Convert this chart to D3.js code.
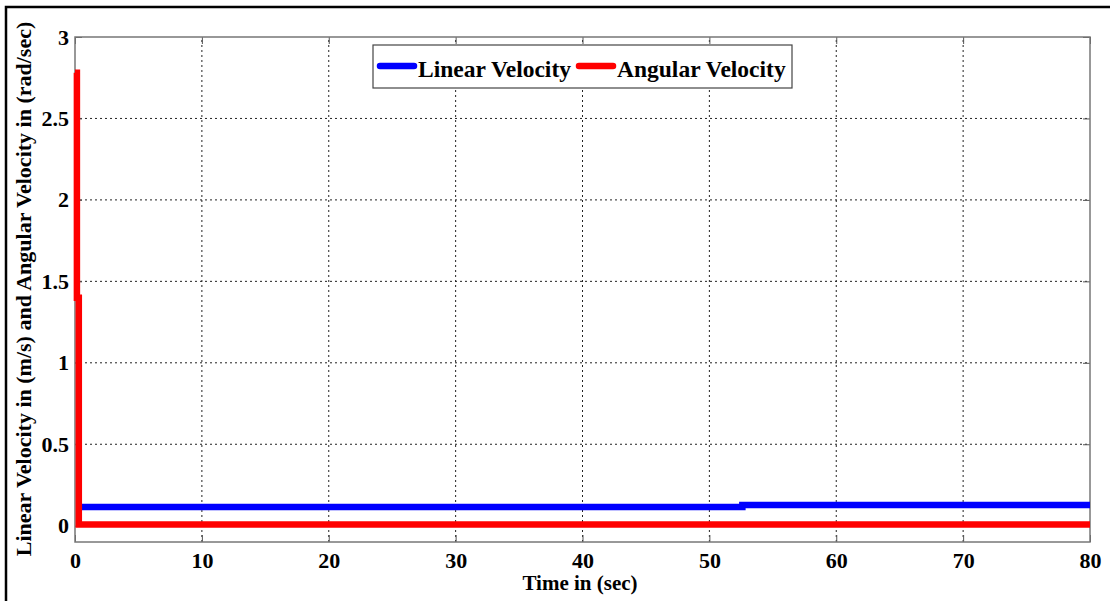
<!DOCTYPE html>
<html>
<head>
<meta charset="utf-8">
<script src="https://cdn.jsdelivr.net/npm/d3@7"></script>
<style>
  body { margin: 0; background: #fff; }
  svg { display: block; font-family: "Liberation Serif", "Times New Roman", serif; }
</style>
</head>
<body>
<script>
const width = 1110, height = 601;

// time (sec) and values
const linearT = [0.4, 52.6, 52.6, 80];
const linearV = [0.115, 0.115, 0.127, 0.127];
const angularT = [0, 0.15, 0.15, 0.3, 0.3, 80];
const angularV = [2.78, 2.78, 1.4, 1.4, 0.008, 0.008];

const xTicks = [0, 10, 20, 30, 40, 50, 60, 70, 80];
const yTicks = [0, 0.5, 1, 1.5, 2, 2.5, 3];
const yTickLabels = ["0", "0.5", "1", "1.5", "2", "2.5", "3"];

const margin = {left: 75, right: 20, top: 37, bottom: 59};
const x = d3.scaleLinear().domain([0, 80]).range([margin.left, width - margin.right]);
const y = d3.scaleLinear().domain([-0.1, 3]).range([height - margin.bottom, margin.top]);

const svg = d3.select('body').append('svg')
    .attr('width', width)
    .attr('height', height);

// outer frame
svg.append('rect')
    .attr('x', 6).attr('y', 7)
    .attr('width', width + 10).attr('height', height + 10)
    .attr('fill', 'none').attr('stroke', '#000').attr('stroke-width', 2.5);

// grid
const grid = svg.append('g').attr('stroke', '#222').attr('stroke-width', 1).attr('stroke-dasharray', '2,3');
grid.selectAll('line.gx').data(xTicks.slice(1, -1)).enter().append('line')
    .attr('x1', d => x(d)).attr('x2', d => x(d))
    .attr('y1', y(-0.1)).attr('y2', y(3));
grid.selectAll('line.gy').data(yTicks.slice(1, -1)).enter().append('line')
    .attr('x1', x(0)).attr('x2', x(80))
    .attr('y1', d => y(d)).attr('y2', d => y(d));

// axes
const xAxis = svg.append('g')
    .attr('transform', 'translate(0,' + y(-0.1) + ')')
    .call(d3.axisBottom(x).tickValues(xTicks).tickSize(-7).tickPadding(10));
const yAxis = svg.append('g')
    .attr('transform', 'translate(' + x(0) + ',0)')
    .call(d3.axisLeft(y).tickValues(yTicks).tickFormat((d, i) => yTickLabels[i]).tickSize(-7).tickPadding(6));
[xAxis, yAxis].forEach(a => {
    a.select('.domain').remove();
    a.selectAll('line').attr('stroke', '#555');
    a.selectAll('text')
        .attr('fill', '#000')
        .style('font-family', '"Liberation Serif", serif')
        .style('font-weight', 'bold')
        .style('font-size', '22px');
});
// mirrored ticks on top / right
svg.append('g').attr('transform', 'translate(0,' + y(3) + ')')
    .call(d3.axisTop(x).tickValues(xTicks).tickSize(-7).tickFormat(''))
    .call(g => { g.select('.domain').remove(); g.selectAll('line').attr('stroke', '#555'); });
svg.append('g').attr('transform', 'translate(' + x(80) + ',0)')
    .call(d3.axisRight(y).tickValues(yTicks).tickSize(-7).tickFormat(''))
    .call(g => { g.select('.domain').remove(); g.selectAll('line').attr('stroke', '#555'); });

svg.append('rect')
    .attr('x', x(0)).attr('y', y(3))
    .attr('width', x(80) - x(0)).attr('height', y(-0.1) - y(3))
    .attr('fill', 'none').attr('stroke', '#777').attr('stroke-width', 1.5);

// lines
const line = d3.line().x(d => x(d[0])).y(d => y(d[1]));
svg.append('path')
    .datum(linearT.map((t, i) => [t, linearV[i]]))
    .attr('d', line)
    .attr('fill', 'none').attr('stroke', '#0000ff').attr('stroke-width', 6.5);
svg.append('path')
    .datum(angularT.map((t, i) => [t, angularV[i]]))
    .attr('d', line)
    .attr('fill', 'none').attr('stroke', '#ff0000').attr('stroke-width', 6.5);

// axis titles
svg.append('text')
    .attr('x', 580).attr('y', 590)
    .attr('text-anchor', 'middle')
    .style('font-weight', 'bold').style('font-size', '21px')
    .text('Time in (sec)');
svg.append('text')
    .attr('transform', 'translate(31,' + 289 + ') rotate(-90)')
    .attr('text-anchor', 'middle')
    .style('font-weight', 'bold').style('font-size', '22px')
    .text('Linear Velocity in (m/s) and Angular Velocity in (rad/sec)');

// legend
const legend = svg.append('g');
legend.append('rect')
    .attr('x', 373).attr('y', 45)
    .attr('width', 419).attr('height', 43)
    .attr('fill', '#fff').attr('stroke', '#444').attr('stroke-width', 1.2);
const items = [
    {name: 'Linear Velocity', color: '#0000ff', x0: 378},
    {name: 'Angular Velocity', color: '#ff0000', x0: 577}
];
items.forEach(it => {
    legend.append('line')
        .attr('x1', it.x0 + 2).attr('x2', it.x0 + 36)
        .attr('y1', 66).attr('y2', 66)
        .attr('stroke', it.color).attr('stroke-width', 6.5).attr('stroke-linecap', 'round');
    legend.append('text')
        .attr('x', it.x0 + 40).attr('y', 77)
        .style('font-weight', 'bold').style('font-size', '23.5px')
        .text(it.name);
});
</script>
</body>
</html>
